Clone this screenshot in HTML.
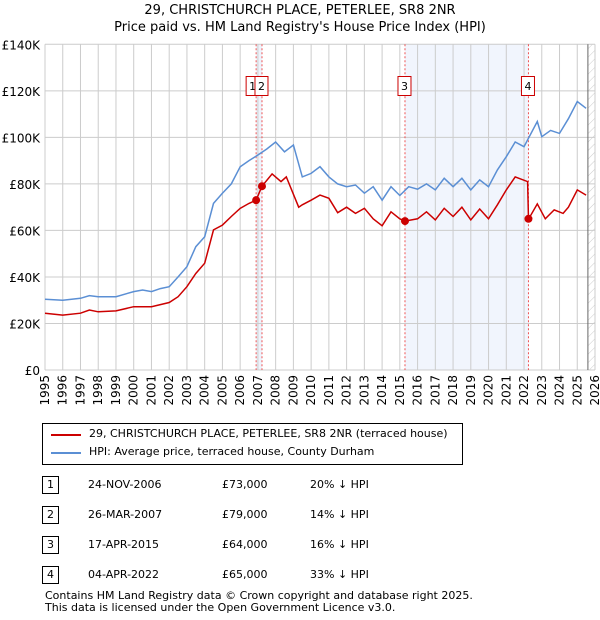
<!DOCTYPE html>
<html><head><meta charset="utf-8"><style>
body{margin:0;background:#fff;font-family:"DejaVu Sans","Liberation Sans",sans-serif;}
#wrap{position:relative;width:600px;height:620px;overflow:hidden}
.t{position:absolute;font-size:11px;color:#000;white-space:nowrap}
svg text{font-family:"DejaVu Sans","Liberation Sans",sans-serif}
</style></head><body><div id="wrap">
<svg id="svg" width="600" height="620" style="position:absolute;left:0;top:0">
<defs><pattern id="hatch" width="6" height="6" patternUnits="userSpaceOnUse" patternTransform="rotate(45)"><line x1="0" y1="0" x2="0" y2="6" stroke="#ccc" stroke-width="1"/></pattern></defs>
<text x="300" y="14" text-anchor="middle" font-size="13">29, CHRISTCHURCH PLACE, PETERLEE, SR8 2NR</text>
<text x="300" y="31" text-anchor="middle" font-size="13">Price paid vs. HM Land Registry's House Price Index (HPI)</text>
<g id="g"></g>
</svg>
<div style="position:absolute;left:42px;top:423px;width:419px;height:40px;border:1px solid #000">
<div style="position:absolute;left:8px;top:10px;width:30px;height:2px;background:#cc0000"></div>
<div class="t" style="left:46px;top:3px">29, CHRISTCHURCH PLACE, PETERLEE, SR8 2NR (terraced house)</div>
<div style="position:absolute;left:8px;top:28px;width:30px;height:2px;background:#5b8fd4"></div>
<div class="t" style="left:46px;top:21px">HPI: Average price, terraced house, County Durham</div>
</div>
<div id="tbl"></div>
<div class="t" style="left:45px;top:589px">Contains HM Land Registry data © Crown copyright and database right 2025.</div>
<div class="t" style="left:45px;top:601px">This data is licensed under the Open Government Licence v3.0.</div>
</div>
<script>
const hpiYears=[1995,1996,1997,1997.5,1998,1999,2000,2000.5,2001,2001.5,2002,2002.5,2003,2003.5,2004,2004.5,2005,2005.5,2006,2006.5,2007,2007.5,2008,2008.5,2009,2009.5,2010,2010.5,2011,2011.5,2012,2012.5,2013,2013.5,2014,2014.5,2015,2015.5,2016,2016.5,2017,2017.5,2018,2018.5,2019,2019.5,2020,2020.5,2021,2021.5,2022,2022.75,2023,2023.5,2024,2024.5,2025,2025.5];
const hpiValues=[30.4,30,30.8,32,31.5,31.5,33.7,34.4,33.7,35,35.8,40,44.4,53,57.3,71.6,76,80,87.4,90,92.4,95,98,93.8,96.7,83,84.5,87.4,83,80,78.8,79.5,76,78.8,73,78.8,75,78.8,77.7,80,77.4,82.4,78.8,82.4,77.4,81.7,78.8,86,91.7,98,96,106.8,100.3,103,101.7,108,115.4,112.5];
const priceYears=[1995,1996,1997,1997.5,1998,1999,2000,2001,2002,2002.5,2003,2003.5,2004,2004.5,2005,2005.5,2006,2006.5,2006.9,2007.23,2007.8,2008.3,2008.6,2009.3,2009.5,2010,2010.5,2011,2011.5,2012,2012.5,2013,2013.5,2014,2014.5,2015,2015.29,2016,2016.5,2017,2017.5,2018,2018.5,2019,2019.5,2020,2020.5,2021,2021.5,2022.2,2022.25,2022.75,2023.2,2023.7,2024.2,2024.5,2025,2025.5];
const priceValues=[24.4,23.6,24.4,25.8,25,25.4,27.2,27.2,29,31.5,35.8,41.5,45.9,60.2,62.3,66,69.5,71.6,73,79,84.3,81,83,70,71,73,75.2,73.8,67.6,70,67.3,69.5,65,62,68,65,64,65,68,64.5,69.5,66,70,64.5,69.2,65,71,77.4,83,81,64.8,71.4,65,68.8,67.3,70,77.4,75.2];
const saleLabels=["1","2","3","4"];
const saleYears=[2006.9,2007.23,2015.29,2022.25];
const salePrices=[73,79,64,65];
const saleDates=["24-NOV-2006","26-MAR-2007","17-APR-2015","04-APR-2022"];
const salePriceText=["£73,000","£79,000","£64,000","£65,000"];
const saleHpiText=["20% ↓ HPI","14% ↓ HPI","16% ↓ HPI","33% ↓ HPI"];
const yTicks=[0,20,40,60,80,100,120,140];
const yTickLabels=["£0","£20K","£40K","£60K","£80K","£100K","£120K","£140K"];
const xTicks=[];for(let y=1995;y<=2026;y++)xTicks.push(y);

const X0=45,X1=595,Y0=370,Y1=44.3;
const xs=v=>X0+(v-1995)*(X1-X0)/31;
const ys=v=>Y0-v*(Y0-Y1)/140;
const NS="http://www.w3.org/2000/svg";
const g=document.getElementById('g');
function mk(tag,attrs,parent){const e=document.createElementNS(NS,tag);for(const k in attrs)e.setAttribute(k,attrs[k]);(parent||g).appendChild(e);return e;}
let e;
e=mk('rect',{x:xs(saleYears[0]),y:Y1,width:xs(saleYears[1])-xs(saleYears[0]),height:Y0-Y1,fill:'#eef3fc'});


e=mk('rect',{x:xs(saleYears[2]),y:Y1,width:xs(saleYears[3])-xs(saleYears[2]),height:Y0-Y1,fill:'#f1f5fd'});


e=mk('rect',{x:xs(2025.6),y:Y1,width:X1-xs(2025.6),height:Y0-Y1,fill:'url(#hatch)'});


xTicks.forEach((t,i)=>{
 e=mk('line',{x1:xs(t),x2:xs(t),y1:Y1,y2:Y0,stroke:'#ccc','stroke-width':1});
 
 
 e=mk('text',{x:0,y:0,transform:`translate(${xs(t)+4},${Y0+5}) rotate(-90)`,'text-anchor':'end','font-size':12});
 e.textContent=t;
 
 
});
yTicks.forEach((t,i)=>{
 e=mk('line',{x1:X0,x2:X1,y1:ys(t),y2:ys(t),stroke:'#ccc','stroke-width':1});
 
 
 e=mk('text',{x:40,y:ys(t)+5,'text-anchor':'end','font-size':12});
 e.textContent=yTickLabels[i];
 
 
});
e=mk('line',{x1:xs(2025.6),x2:xs(2025.6),y1:Y1,y2:Y0,stroke:'#666','stroke-width':1});


saleYears.forEach((s,i)=>{
 e=mk('line',{x1:xs(s),x2:xs(s),y1:Y1,y2:Y0,stroke:'#e55','stroke-width':1,'stroke-dasharray':'2,2'});
 
 
});
e=mk('path',{d:hpiYears.map((y,i)=>(i?'L':'M')+xs(y).toFixed(1)+','+ys(hpiValues[i]).toFixed(1)).join(''),fill:'none',stroke:'#5b8fd4','stroke-width':1.5});


e=mk('path',{d:priceYears.map((y,i)=>(i?'L':'M')+xs(y).toFixed(1)+','+ys(priceValues[i]).toFixed(1)).join(''),fill:'none',stroke:'#cc0000','stroke-width':1.5});


saleYears.forEach((s,i)=>{
 e=mk('circle',{cx:xs(s),cy:ys(salePrices[i]),r:4,fill:'#cc0000'});
 
 
 const bx=(i===0)?xs(s)-10:xs(s)-7;
 e=mk('rect',{x:bx,y:76.5,width:13,height:19,fill:'#fff',stroke:'#cc0000','stroke-width':1});
 
 
 e=mk('text',{x:bx+6.5,y:90,'text-anchor':'middle','font-size':11});
 e.textContent=saleLabels[i];
 
 
});
const tbl=document.getElementById('tbl');
saleYears.forEach((s,i)=>{
 const top=476+i*30;
 const row=document.createElement('div');
 
 
 row.innerHTML=`<div style="position:absolute;left:42px;top:${top}px;width:15px;height:16px;border:1px solid #000;font-size:11px;text-align:center;line-height:16px">${saleLabels[i]}</div>
 <div class="t" style="left:88px;top:${top+2}px">${saleDates[i]}</div>
 <div class="t" style="left:222px;top:${top+2}px">${salePriceText[i]}</div>
 <div class="t" style="left:310px;top:${top+2}px">${saleHpiText[i]}</div>`;
 tbl.appendChild(row);
});
</script></body></html>
